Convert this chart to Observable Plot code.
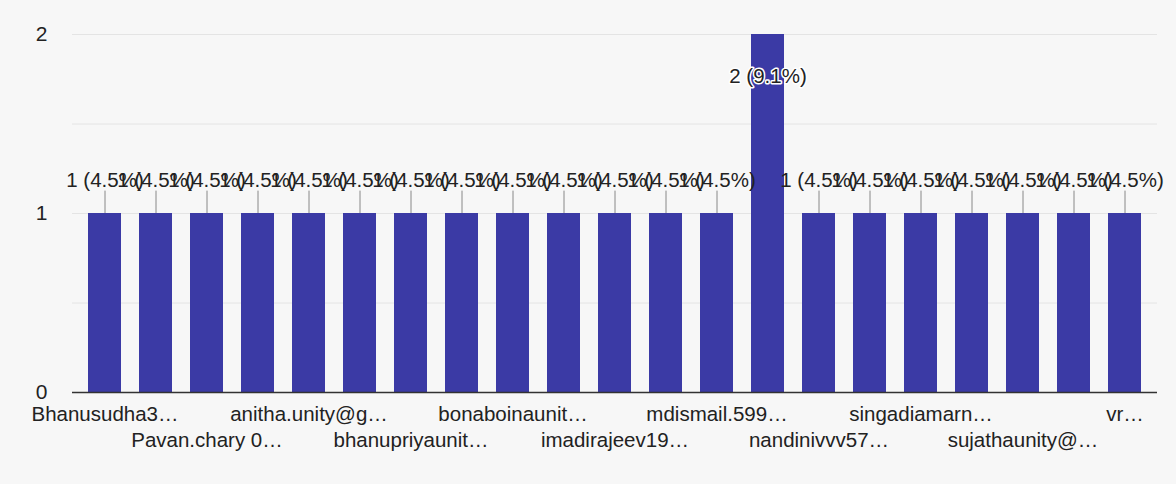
<!DOCTYPE html>
<html>
<head>
<meta charset="utf-8">
<script src="https://cdn.jsdelivr.net/npm/d3@7"></script>
<script src="https://cdn.jsdelivr.net/npm/@observablehq/plot@0.6"></script>
<style>
  html, body { margin: 0; padding: 0; background: #f7f7f7; }
  #chart svg { display: block; }
</style>
</head>
<body>
<div id="chart"></div>
<script>
// Respondent counts per answer (sorted as in the form summary), 21 bars
const counts = [1, 1, 1, 1, 1, 1, 1, 1, 1, 1, 1, 1, 1, 2, 1, 1, 1, 1, 1, 1, 1];
// Only every other category name is shown on the axis (truncated)
const shownIndex = [0, 2, 4, 6, 8, 10, 12, 14, 16, 18, 20];
const shownLabels = [
  "Bhanusudha3…", "Pavan.chary 0…", "anitha.unity@g…", "bhanupriyaunit…",
  "bonaboinaunit…", "imadirajeev19…", "mdismail.599…", "nandinivvv57…",
  "singadiamarn…", "sujathaunity@…", "vr…"
];
const yTicks = [0, 1, 2];

const total = d3.sum(counts);
const data = counts.map((v, i) => ({
  i, v, label: `${v} (${(v / total * 100).toFixed(1)}%)`
}));
const labelOf = new Map(shownIndex.map((k, j) => [k, shownLabels[j]]));
const topRow = shownIndex.filter((k, j) => j % 2 === 0);
const bottomRow = shownIndex.filter((k, j) => j % 2 === 1);
const fmt = i => labelOf.get(i) ?? "";

const barColor = "#3b3aa5";
const textColor = "#222";
const font = "Liberation Sans, Arial, sans-serif";

const chart = Plot.plot({
  width: 1176,
  height: 484,
  marginLeft: 72,
  marginRight: 19,
  marginTop: 34,
  marginBottom: 92,
  style: { background: "#f7f7f7", fontFamily: font, color: textColor },
  x: { type: "band", domain: d3.range(counts.length), paddingInner: 0.36, paddingOuter: 0.18, axis: null, label: null },
  y: { domain: [0, 2], axis: null, label: null },
  marks: [
    Plot.ruleY([0.5, 1, 1.5, 2], { stroke: "#e4e4e4", strokeWidth: 1 }),
    Plot.barY(data, { x: "i", y: "v", fill: barColor }),
    Plot.ruleY([0], { stroke: "#333", strokeWidth: 1.5 }),
    // leader lines from label to bar top
    Plot.ruleX(data.filter(d => d.v < 2), { x: "i", y1: "v", y2: d => d.v + 0.125, stroke: "#888", strokeWidth: 1 }),
    Plot.text(data.filter(d => d.v < 2), {
      x: "i", y: "v", text: "label", dy: -33, fontSize: 20.5, fill: textColor, fontFamily: font
    }),
    Plot.text(data.filter(d => d.v >= 2), {
      x: "i", y: "v", text: "label", dy: 42, fontSize: 20.5, fill: textColor,
      stroke: "white", strokeWidth: 3, paintOrder: "stroke", fontFamily: font
    }),
    Plot.axisY({ ticks: yTicks, tickFormat: d3.format("d"), label: null, tickSize: 0, tickPadding: 25, fontSize: 21, fill: textColor, fontFamily: font }),
    Plot.axisX({ ticks: topRow, tickFormat: fmt, label: null, tickSize: 0, tickPadding: 14, fontSize: 20.5, fill: textColor, fontFamily: font }),
    Plot.axisX({ ticks: bottomRow, tickFormat: fmt, label: null, tickSize: 0, tickPadding: 40, fontSize: 20.5, fill: textColor, fontFamily: font })
  ]
});
document.getElementById("chart").appendChild(chart);
</script>
</body>
</html>
